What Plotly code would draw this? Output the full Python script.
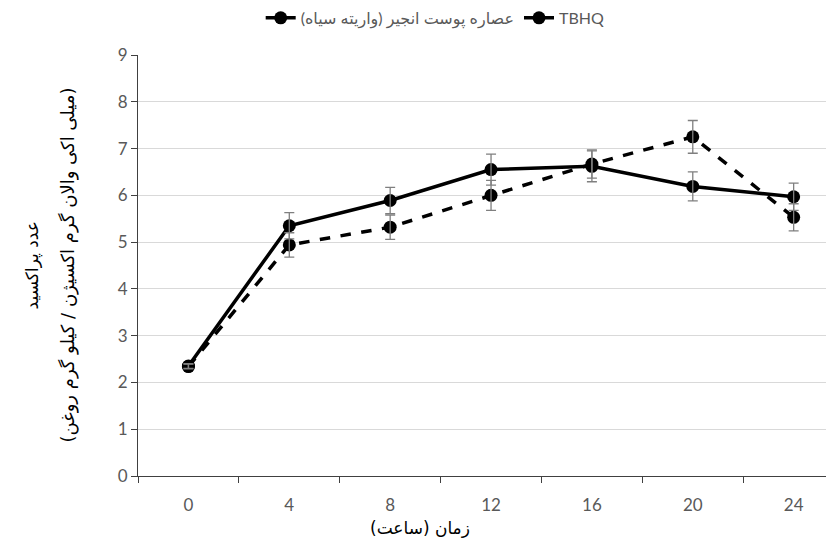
import plotly.graph_objects as go

hours = ["0", "4", "8", "12", "16", "20", "24"]
fig_extract = [2.35, 5.35, 5.89, 6.55, 6.62, 6.19, 5.97]
fig_extract_err = [0.05, 0.28, 0.28, 0.33, 0.33, 0.31, 0.29]
tbhq = [2.34, 4.94, 5.32, 6.00, 6.67, 7.25, 5.53]
tbhq_err = [0.05, 0.26, 0.26, 0.32, 0.30, 0.35, 0.29]

name_extract = "عصاره پوست انجیر (واریته سیاه)"
name_tbhq = "TBHQ"
x_title = "زمان (ساعت)"
y_title_1 = "عدد پراکسید"
y_title_2 = "(میلی اکی والان گرم اکسیژن / کیلو گرم روغن)"

fig = go.Figure()
fig.add_trace(go.Scatter(
    x=hours, y=fig_extract, name=name_extract, mode="lines+markers",
    line=dict(color="black", width=3.5),
    marker=dict(color="black", size=13),
))
fig.add_trace(go.Scatter(
    x=hours, y=tbhq, name=name_tbhq, mode="lines+markers",
    line=dict(color="black", width=3.5, dash="dash"),
    marker=dict(color="black", size=13),
))
# error bars (drawn without legend glyphs)
for vals, errs in ((fig_extract, fig_extract_err), (tbhq, tbhq_err)):
    fig.add_trace(go.Scatter(
        x=hours, y=vals, mode="markers", showlegend=False, hoverinfo="skip",
        marker=dict(color="rgba(0,0,0,0)", size=1),
        error_y=dict(type="data", array=errs, color="#7f7f7f", thickness=1.3, width=5),
    ))

fig.update_layout(
    width=826, height=534,
    margin=dict(l=130, r=0, t=47, b=66, autoexpand=False),
    paper_bgcolor="white", plot_bgcolor="white",
    font=dict(family="Lato, DejaVu Sans, sans-serif", color="#595959", size=16),
    legend=dict(orientation="h", x=0.427, xanchor="center", y=1.088, yanchor="middle",
                font=dict(size=16, color="#595959"), traceorder="normal"),
    xaxis=dict(
        type="category", range=[-0.5, 6.4], tickson="boundaries",
        ticks="outside", ticklen=6, tickcolor="#404040", ticklabelstandoff=13,
        showline=True, linecolor="#404040", linewidth=1.2,
        showgrid=False, zeroline=False, automargin=False,
        tickfont=dict(size=17),
    ),
    yaxis=dict(
        range=[0, 9], dtick=1, ticks="outside", ticklen=6, tickcolor="#404040",
        showline=True, linecolor="#404040", linewidth=1.2,
        showgrid=True, gridcolor="#d9d9d9", gridwidth=1.2, zeroline=False, automargin=False,
        tickfont=dict(size=17),
    ),
    annotations=[
        dict(text=x_title, xref="paper", yref="paper", x=0.405, y=-0.1235,
             xanchor="center", yanchor="middle", showarrow=False,
             font=dict(family="DejaVu Sans, sans-serif", size=17, color="black")),
        dict(text=y_title_1, xref="paper", yref="paper", x=-0.151, y=0.5, textangle=-90,
             xanchor="center", yanchor="middle", showarrow=False,
             font=dict(family="DejaVu Sans, sans-serif", size=17, color="black")),
        dict(text=y_title_2, xref="paper", yref="paper", x=-0.102, y=0.5, textangle=-90,
             xanchor="center", yanchor="middle", showarrow=False,
             font=dict(family="DejaVu Sans, sans-serif", size=18, color="black")),
    ],
)

fig.write_html("out.html")
